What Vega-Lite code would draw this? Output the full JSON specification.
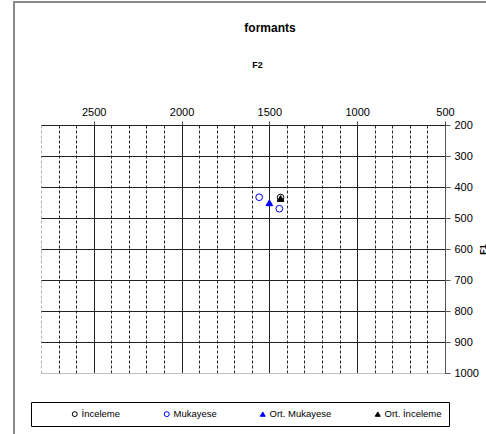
{
  "$schema": "https://vega.github.io/schema/vega-lite/v6.json",
  "width": 404,
  "height": 248,
  "autosize": {"type": "none"},
  "padding": {"left": 41, "top": 125, "right": 41, "bottom": 61},
  "background": "white",
  "config": {"font": "Liberation Sans", "view": {"stroke": null}},
  "title": {"text": "formants", "fontSize": 12, "fontWeight": "bold", "font": "Liberation Sans", "color": "black", "anchor": "middle", "dx": 27, "offset": -34},
  "data": {"values": [
    {"series": "İnceleme", "F2": 1436, "F1": 434},
    {"series": "Mukayese", "F2": 1558, "F1": 433},
    {"series": "Mukayese", "F2": 1443, "F1": 470},
    {"series": "Ort. Mukayese", "F2": 1500, "F1": 451},
    {"series": "Ort. İnceleme", "F2": 1436, "F1": 437}
  ]},
  "layer": [
    {
      "mark": {"type": "rect", "fill": null, "stroke": "#8a8a8a", "strokeWidth": 1.5},
      "encoding": {
        "x": {"datum": 2954, "type": "quantitative",
          "scale": {"domain": [500, 2800], "reverse": true, "nice": false, "zero": false},
          "axis": {"orient": "top", "values": [2800,2700,2600,2500,2400,2300,2200,2100,2000,1900,1800,1700,1600,1500,1400,1300,1200,1100,1000,900,800,700,600,500],
            "labelExpr": "datum.value % 500 === 0 && datum.value < 2800 ? datum.label : ''", "format": "d",
            "title": "F2", "titleFontSize": 9, "titleFontWeight": "bold", "titleColor": "black", "titleX": 216, "titleY": -56, "titleBaseline": "bottom", "titleAnchor": "middle",
            "grid": true,
            "gridColor": {"condition": {"test": "datum.value === 2800", "value": "#b0b0b0"}, "value": "#222222"},
            "gridDash": {"condition": {"test": "datum.value % 500 === 0", "value": []}, "value": [3, 2]},
            "gridWidth": 1, "domain": false, "ticks": true, "tickSize": 4, "tickColor": "#444444",
            "tickOpacity": {"condition": {"test": "datum.value % 500 === 0 && datum.value < 2800", "value": 1}, "value": 0},
            "labelFontSize": 11, "labelPadding": 4, "labelColor": "black", "labelFlush": false, "labelOverlap": false, "labelBound": false}},
        "x2": {"datum": 100},
        "y": {"datum": -197, "type": "quantitative",
          "scale": {"domain": [200, 1000], "reverse": true, "nice": false, "zero": false},
          "axis": {"orient": "right", "values": [200,300,400,500,600,700,800,900,1000], "format": "d",
            "title": "F1", "titleFontSize": 9, "titleFontWeight": "bold", "titleColor": "black", "titleAngle": 270, "titleX": 37, "titleY": 124, "titleBaseline": "middle", "titleAnchor": "middle",
            "grid": true,
            "gridColor": {"condition": {"test": "datum.value === 1000", "value": "#c0c0c0"}, "value": "#222222"},
            "gridWidth": 1, "domain": true, "domainColor": "#555555", "tickSize": 5, "tickColor": "#555555",
            "labelFontSize": 11, "labelPadding": 4, "labelColor": "black", "labelFlush": false, "labelOverlap": false}},
        "y2": {"datum": 1300}
      }
    },
    {
      "mark": {"type": "point", "filled": false, "size": 45, "strokeWidth": 1, "opacity": 1},
      "encoding": {
        "x": {"field": "F2", "type": "quantitative",
          "scale": {"domain": [500, 2800], "reverse": true, "nice": false, "zero": false},
          "axis": {"orient": "top", "values": [2800,2700,2600,2500,2400,2300,2200,2100,2000,1900,1800,1700,1600,1500,1400,1300,1200,1100,1000,900,800,700,600,500],
            "labelExpr": "datum.value % 500 === 0 && datum.value < 2800 ? datum.label : ''", "format": "d",
            "title": "F2", "titleFontSize": 9, "titleFontWeight": "bold", "titleColor": "black", "titleX": 216, "titleY": -56, "titleBaseline": "bottom", "titleAnchor": "middle",
            "grid": true,
            "gridColor": {"condition": {"test": "datum.value === 2800", "value": "#b0b0b0"}, "value": "#222222"},
            "gridDash": {"condition": {"test": "datum.value % 500 === 0", "value": []}, "value": [3, 2]},
            "gridWidth": 1, "domain": false, "ticks": true, "tickSize": 4, "tickColor": "#444444",
            "tickOpacity": {"condition": {"test": "datum.value % 500 === 0 && datum.value < 2800", "value": 1}, "value": 0},
            "labelFontSize": 11, "labelPadding": 4, "labelColor": "black", "labelFlush": false, "labelOverlap": false, "labelBound": false}},
        "y": {"field": "F1", "type": "quantitative",
          "scale": {"domain": [200, 1000], "reverse": true, "nice": false, "zero": false},
          "axis": {"orient": "right", "values": [200,300,400,500,600,700,800,900,1000], "format": "d",
            "title": "F1", "titleFontSize": 9, "titleFontWeight": "bold", "titleColor": "black", "titleAngle": 270, "titleX": 37, "titleY": 124, "titleBaseline": "middle", "titleAnchor": "middle",
            "grid": true,
            "gridColor": {"condition": {"test": "datum.value === 1000", "value": "#c0c0c0"}, "value": "#222222"},
            "gridWidth": 1, "domain": true, "domainColor": "#555555", "tickSize": 5, "tickColor": "#555555",
            "labelFontSize": 11, "labelPadding": 4, "labelColor": "black", "labelFlush": false, "labelOverlap": false}},
        "shape": {"field": "series", "type": "nominal",
          "scale": {"domain": ["İnceleme", "Mukayese", "Ort. Mukayese", "Ort. İnceleme"], "range": ["circle", "circle", "triangle-up", "triangle-up"]},
          "legend": {"orient": "none", "legendX": -10, "legendY": 277, "direction": "horizontal", "columns": 4,
            "title": " ", "titleOrient": "left", "titlePadding": 32, "titleFontSize": 9,
            "padding": 7, "columnPadding": 41, "strokeColor": "black", "fillColor": "white", "labelFontSize": 9.5, "labelColor": "black",
            "symbolSize": 25, "symbolStrokeWidth": 1, "cornerRadius": 0, "labelOffset": 2}},
        "stroke": {"field": "series", "type": "nominal",
          "scale": {"domain": ["İnceleme", "Mukayese", "Ort. Mukayese", "Ort. İnceleme"], "range": ["#000000", "#0000ff", "#0000ff", "#000000"]}},
        "fill": {"field": "series", "type": "nominal",
          "scale": {"domain": ["İnceleme", "Mukayese", "Ort. Mukayese", "Ort. İnceleme"], "range": ["transparent", "transparent", "#0000ff", "#000000"]}}
      }
    }
  ]
}
